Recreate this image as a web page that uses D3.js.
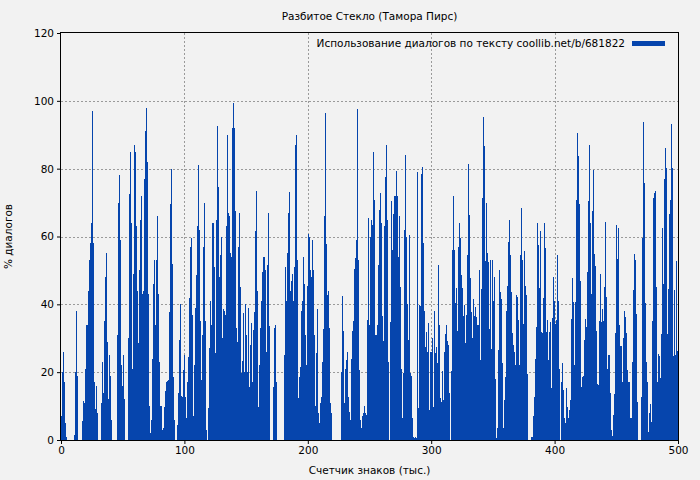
<!DOCTYPE html>
<html><head><meta charset="utf-8">
<script src="https://cdn.jsdelivr.net/npm/d3@7"></script>
<style>
html,body{margin:0;padding:0;background:#f2f2f2;}
svg{display:block;font-family:"DejaVu Sans",sans-serif;}
</style></head>
<body>
<svg id="chart" width="700" height="480"></svg>
<script>
const title = "Разбитое Стекло (Тамора Пирс)";
const xLabel = "Счетчик знаков (тыс.)";
const yLabel = "% диалогов";
const legendLabel = "Использование диалогов по тексту coollib.net/b/681822";
const xTicks = [0, 100, 200, 300, 400, 500];
const yTicks = [0, 20, 40, 60, 80, 100, 120];
const xMax = 500;
// dialogue share per slice, read left to right across 0..500 thousand characters
const dialogShare = [
7,20,26,17,5,1,0,0,0,0,0,0,0,1.5,20,38,19,0,0,0,0,5.6,11.5,11,21,34,34,44,53,58,64,97,58,17,9,16,8,0,0,0,11,23,14,35,48,55,29,12,25,19,6,
0,0,0,0,0,31,70,78,59,22,16,25,12,0,0,0,30,72.6,85,64,21,49,87,85,63,44,28.5,50,65,72,43,44,77,91,98,82,43,10,2,6,24,46,53,34,53,66,43,23,10,10,
3,3.4,9.6,14.5,17,17.5,17.7,37.7,69.6,80,52,18.7,6,0,0,4.4,14,29.5,40,13,12.8,20.6,25,12.8,6.6,17,24.6,41.8,56.8,59.6,36.8,7,22,38.8,48.7,63,81,62,35,17.7,31,57,70,35,3,0,9.5,27,41,34,64,
64,51,25.6,65,92.6,74.7,48,54.6,60,30,38.6,37.9,37,63,90,67,66,55,54,92,99.5,92,67.5,33,29,57,67,45,19.7,23.4,37.5,20,40,31,20,39,15.7,28,34.6,17,32.4,37.7,61.5,73.4,44,9.8,22,33,41,49.5,54,
54,50,26,51.6,67,33.7,0,0,0,15.7,33,34,17,0,0,0,0,0,0,0,25,51,41,55,67,73,44,47,49,41,51,87,90,53,12.5,18.7,21.6,38,41,54,46,31,22,45.5,60.7,60,50,48,59,50,31,
10,25.6,38.6,7.9,5,10.8,12.8,23,32.6,66,96.5,57.8,42.8,43.8,33,11,8,0,0,0,0,0,0,0,0,0,20,42.5,32,10.8,21,23.6,25.8,12.8,8.4,6,24,32,35,50.4,53.6,59,97.6,53,20.6,6,3.4,7,8,10,8,
7.4,35.4,65.6,34,60,65,63.4,85,70.8,31,31,34,51.6,67.8,72.8,64,36.6,29.3,63,77.5,87,65,23,0,34.7,70.6,56,66.6,71.8,72,79.4,72,54,65.9,45,21,6.4,19.7,62,84,60,40,29.5,60.3,19.7,19,6.6,1,0.5,1,0.6,
79,9.3,39.8,39.6,78.4,80.6,58,37.9,27.5,31.7,25.8,34.4,8.8,26,25.9,30,9.8,38,25.6,27.5,22.6,51.6,34,12.5,11.3,20.4,11.8,26,31.3,34,29.2,28,14,0,20.4,56,72,56,40.5,44.7,32,57,64,59.5,48.7,44.7,36.6,39.8,28.5,36.9,54.6,
81.3,66.4,47.7,37.7,30,41.5,36.7,39.3,36.4,34,34,50,23.6,44.4,71.3,95.2,86.7,52.8,70,55,52.4,32.7,53,26.7,53,41,48,18,0.5,3.4,26.5,50,43.5,41.6,22.6,3.4,11.8,18.7,38,45.4,58.5,65,54.6,43.6,31.5,28,26,22,42.8,42.3,35.4,
22,54.6,68.3,53,34.2,55.7,45.4,42.8,19.5,0,0,0,1,1,7,12.8,23.8,33.4,64,57.5,44.7,61.7,31.8,31.5,41.8,64,56.6,31.7,35.4,23.6,31.7,34.9,15.2,35.9,48,41,34.1,35.4,54.4,41,21,0,17,22.8,14.7,6.4,5,15.2,9.8,6.4,8.8,
11.8,35.7,47.9,40.8,22,40.8,70.8,90.5,83.6,69.6,47,15.5,18.7,18.9,29.5,35.6,33.4,49.6,70.6,87,64,43,67.4,79.6,54.9,51.3,32,16.4,16.2,35,48.9,34.9,38.5,35,45,64.2,42.3,21,25,25,13.8,3,1.2,7.4,13.6,31.5,63.4,53.4,62.6,34,27.8,
27.7,17.2,30,38,36.2,31.5,20.6,17,17.2,6.4,6.4,23,44.2,54.8,53,37.2,11.3,0,0,0,12.8,59.5,93.9,75.7,40.3,23,17.2,2.5,7.9,10.6,5.4,35.2,71.3,72.8,73.5,45,17.2,25.4,24.9,18.2,31.2,62.4,46,77,86.2,80.1,31.2,44.5,66.6,70.8,93.1,80.3,24.8,44.2,25,52.9,26.2
];

const barColor = "#0645ad";
const fs = 10.5;
const mLeft = 61, mRight = 678, mTop = 33, mBottom = 440;
const svg = d3.select("#chart");
svg.append("rect").attr("width",700).attr("height",480).attr("fill","#f2f2f2");

const x = d3.scaleLinear().domain([0, xMax]).range([mLeft, mRight]);
const y = d3.scaleLinear().domain([0, 120]).range([mBottom, mTop]);
const step = xMax / dialogShare.length;

// grid
const grid = svg.append("g").attr("stroke","#9a9a9a").attr("stroke-width",1).attr("stroke-dasharray","2,2");
yTicks.filter(t => t > 0 && t < 120).forEach(t => {
  grid.append("line").attr("x1",mLeft).attr("x2",mRight).attr("y1",Math.round(y(t))+0.5).attr("y2",Math.round(y(t))+0.5);
});
xTicks.filter(t => t > 0 && t < xMax).forEach(t => {
  grid.append("line").attr("y1",mTop).attr("y2",mBottom).attr("x1",Math.round(x(t))+0.5).attr("x2",Math.round(x(t))+0.5);
});

// bars
svg.append("g").attr("shape-rendering","crispEdges").selectAll("rect").data(dialogShare).join("rect")
  .attr("x",(d,i)=>x(i*step))
  .attr("width",x(step)-x(0))
  .attr("y",d=>y(d))
  .attr("height",d=>y(0)-y(d))
  .attr("fill",barColor);

// axes
const xAxis = d3.axisBottom(x).tickValues(xTicks).tickSize(4).tickPadding(3).tickFormat(d3.format("d"));
const yAxis = d3.axisLeft(y).tickValues(yTicks).tickSize(4).tickPadding(3).tickFormat(d3.format("d"));
const gx = svg.append("g").attr("transform",`translate(0,${mBottom})`).call(xAxis);
const gy = svg.append("g").attr("transform",`translate(${mLeft},0)`).call(yAxis);
[gx,gy].forEach(g=>{
  g.select(".domain").remove();
  g.selectAll("text").attr("font-size",fs).attr("fill","#000").attr("font-family","DejaVu Sans");
  g.selectAll("line").attr("stroke","#000");
});

// frame
svg.append("rect").attr("x",mLeft-0.5).attr("y",mTop-0.5).attr("width",mRight-mLeft+1).attr("height",mBottom-mTop+1)
  .attr("fill","none").attr("stroke","#000").attr("stroke-width",1);

// texts
svg.append("text").attr("x",(mLeft+mRight)/2).attr("y",20).attr("text-anchor","middle").attr("font-size",fs).text(title);
svg.append("text").attr("x",(mLeft+mRight)/2).attr("y",474).attr("text-anchor","middle").attr("font-size",fs).text(xLabel);
svg.append("text").attr("transform",`translate(12,${(mTop+mBottom)/2}) rotate(-90)`).attr("text-anchor","middle").attr("font-size",fs).text(yLabel);

// legend
svg.append("text").attr("x",625).attr("y",47).attr("text-anchor","end").attr("font-size",fs).text(legendLabel);
svg.append("rect").attr("x",632).attr("y",41).attr("width",33).attr("height",5).attr("fill",barColor);
</script>
</body></html>
